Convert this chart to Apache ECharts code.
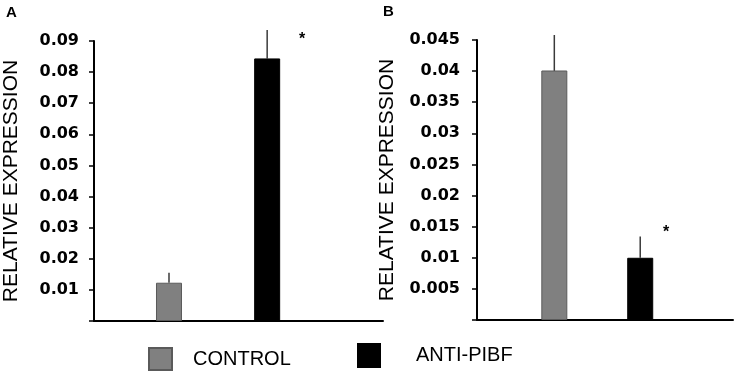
<!DOCTYPE html>
<html>
<head>
<meta charset="utf-8">
<script src="https://cdn.jsdelivr.net/npm/echarts@6/dist/echarts.min.js"></script>
<style>
  html, body { margin: 0; padding: 0; background: #fff; }
  #chart { width: 737px; height: 373px; }
</style>
</head>
<body>
<div id="chart"></div>
<script>
const categories = ['CONTROL', 'ANTI-PIBF']

// panel A
const meanA = [0.0123, 0.0844]
const errTopA = [0.0155, 0.0935]
const errBottomA = [0.0123, 0.0844]
const starA = [null, 0.0905]
const maxA = 0.09
const stepA = 0.01

// panel B
const meanB = [0.0401, 0.0100]
const errTopB = [0.0458, 0.0134]
const errBottomB = [0.0390, 0.0100]
const starB = [null, 0.0141]
const maxB = 0.045
const stepB = 0.005

const barColors = ['#808080', '#000000']
const labelFont = { color: '#000', fontFamily: 'DejaVu Sans', fontWeight: 'bold', fontSize: 16 }

const chart = echarts.init(document.getElementById('chart'))

function yAxisFor(gridIndex, max, step, nameGap, labelMargin) {
  return {
    gridIndex,
    type: 'value',
    min: 0,
    max,
    interval: step,
    name: 'RELATIVE EXPRESSION',
    nameLocation: 'middle',
    nameRotate: 90,
    nameGap,
    nameTextStyle: { color: '#000', fontFamily: 'Liberation Sans', fontSize: 21 },
    axisLine: { show: true, onZero: false, lineStyle: { color: '#000', width: 2 } },
    axisTick: { show: true, length: 5, lineStyle: { color: '#000', width: 1.5 } },
    splitLine: { show: false },
    axisLabel: {
      ...labelFont,
      margin: labelMargin,
      formatter: (v) => (v === 0 ? '' : String(+v.toFixed(3)))
    }
  }
}

function xAxisFor(gridIndex, min, max) {
  return {
    gridIndex,
    type: 'value',
    min,
    max,
    axisLine: { show: true, onZero: true, lineStyle: { color: '#000', width: 2 } },
    axisTick: { show: false },
    axisLabel: { show: false },
    splitLine: { show: false }
  }
}

function barSeries(idx, mean) {
  return categories.map((name, i) => ({
    name,
    type: 'bar',
    xAxisIndex: idx,
    yAxisIndex: idx,
    barWidth: 26,
    barGap: '-100%',
    itemStyle: { color: barColors[i], borderColor: i === 0 ? '#5a5a5a' : '#000', borderWidth: 1 },
    data: [[i, mean[i]]]
  }))
}

function errorSeries(idx, top, bottom, stars, starDx) {
  return {
    type: 'custom',
    xAxisIndex: idx,
    yAxisIndex: idx,
    clip: false,
    silent: true,
    data: categories.map((c, i) => [i, bottom[i], top[i], stars[i]]),
    renderItem: (params, api) => {
      const x = api.value(0)
      const hi = api.coord([x, api.value(2)])
      const lo = api.coord([x, api.value(1)])
      const children = [{
        type: 'line',
        shape: { x1: hi[0], y1: hi[1], x2: lo[0], y2: lo[1] },
        style: { stroke: '#3a3a3a', lineWidth: 1.5 }
      }]
      const s = api.value(3)
      if (s && !isNaN(s)) {
        const p = api.coord([x, s])
        children.push({
          type: 'text',
          style: {
            text: '*', x: p[0] + starDx, y: p[1],
            fill: '#000', font: 'bold 16px "Liberation Sans"',
            align: 'center', verticalAlign: 'middle'
          }
        })
      }
      return { type: 'group', children }
    }
  }
}

const option = {
  backgroundColor: '#fff',
  animation: false,
  title: [
    { text: 'A', left: 6, top: 5, padding: 0, textStyle: { fontFamily: 'Liberation Sans', fontWeight: 'bold', fontSize: 15, color: '#000' } },
    { text: 'B', left: 383, top: 4, padding: 0, textStyle: { fontFamily: 'Liberation Sans', fontWeight: 'bold', fontSize: 15, color: '#000' } }
  ],
  legend: [
    {
      data: ['CONTROL'], left: 148, top: 347, padding: 0,
      icon: 'rect', itemWidth: 23, itemHeight: 22, selectedMode: false,
      textStyle: { color: '#000', fontFamily: 'Liberation Sans', fontSize: 20, padding: [6, 0, 0, 16] }
    },
    {
      data: ['ANTI-PIBF'], left: 357, top: 343, padding: 0,
      icon: 'rect', itemWidth: 22, itemHeight: 23, selectedMode: false,
      textStyle: { color: '#000', fontFamily: 'Liberation Sans', fontSize: 20, padding: [8, 0, 0, 31] }
    }
  ],
  grid: [
    { left: 90, right: 354, top: 41, bottom: 52 },
    { left: 477, right: 4, top: 40, bottom: 53 }
  ],
  xAxis: [xAxisFor(0, -0.764, 2.18), xAxisFor(1, -0.9, 2.08)],
  yAxis: [yAxisFor(0, maxA, stepA, 72, 15), yAxisFor(1, maxB, stepB, 79, 17)],
  series: [
    ...barSeries(0, meanA),
    ...barSeries(1, meanB),
    errorSeries(0, errTopA, errBottomA, starA, 35),
    errorSeries(1, errTopB, errBottomB, starB, 26)
  ]
}

chart.setOption(option)
window.addEventListener('resize', () => chart.resize())
</script>
</body>
</html>
